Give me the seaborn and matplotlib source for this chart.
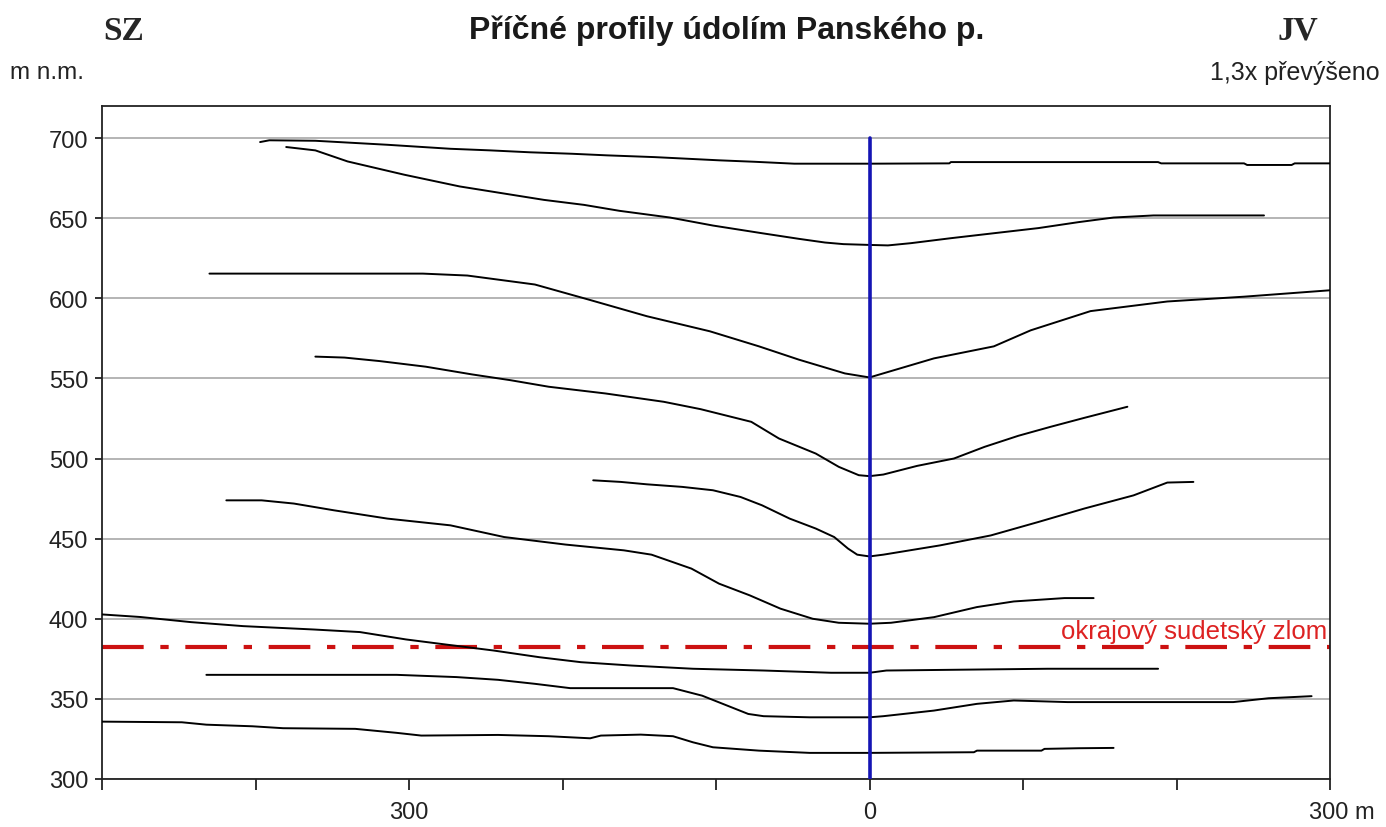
import numpy as np
import pandas as pd
import matplotlib
matplotlib.use("Agg")
import matplotlib.pyplot as plt
import matplotlib.transforms as mtransforms
import seaborn as sns

# ---- data (distance from valley axis in m, SZ negative; elevation m n.m.) ----
p1_x = [-397, -391, -361, -314, -273, -247, -221, -194, -171, -140, -119, -98, -75, -49, 0, 52, 53, 188, 190, 244, 246, 275, 277, 300]
p1_y = [697.5, 698.6, 698.3, 695.8, 693.3, 692.3, 691.1, 690.2, 689.2, 688.1, 687.1, 686.1, 685.2, 684.0, 684.0, 684.2, 685.0, 685.0, 684.2, 684.2, 683.2, 683.2, 684.2, 684.2]

p2_x = [-380, -361, -340, -303, -267, -233, -212, -186, -163, -130, -102, -70, -46, -29, -17, 0, 12, 27, 53, 81, 110, 136, 159, 185, 257]
p2_y = [694.4, 692.3, 685.4, 677.1, 669.8, 664.6, 661.4, 658.3, 654.6, 650.4, 645.4, 640.6, 637.1, 634.8, 633.8, 633.3, 633.0, 634.4, 637.5, 640.6, 643.8, 647.5, 650.4, 651.7, 651.7]

p3_x = [-430, -291, -262, -218, -183, -145, -104, -72, -46, -16, 0, 42, 81, 105, 144, 194, 244, 300]
p3_y = [615.4, 615.4, 614.2, 608.6, 599.2, 588.8, 579.4, 570.0, 561.7, 553.1, 550.6, 562.5, 570.0, 580.0, 592.0, 598.0, 601.0, 605.0]

p4_x = [-361, -342, -319, -289, -259, -234, -209, -172, -134, -110, -77, -59, -35, -20, -7, 0, 9, 31, 55, 75, 97, 118, 140, 168]
p4_y = [563.6, 563.0, 560.8, 557.3, 552.5, 548.9, 544.8, 540.6, 535.4, 530.8, 522.9, 512.5, 503.1, 494.8, 489.6, 489.0, 490.0, 495.4, 500.0, 507.3, 514.2, 519.8, 525.4, 532.3]

p5_x = [-180, -162, -145, -122, -102, -84, -70, -52, -35, -23, -14, -8, 0, 9, 46, 79, 110, 140, 172, 194, 211]
p5_y = [486.4, 485.4, 483.9, 482.3, 480.2, 476.0, 470.8, 462.5, 456.3, 451.0, 443.8, 440.0, 438.9, 440.0, 445.8, 452.0, 460.4, 468.8, 477.0, 485.0, 485.4]

p6_x = [-419, -396, -375, -349, -314, -273, -238, -198, -160, -142, -116, -98, -78, -58, -37, -20, 0, 14, 42, 70, 94, 127, 146]
p6_y = [473.9, 473.9, 471.9, 467.7, 462.5, 458.3, 451.0, 446.3, 442.7, 440.0, 431.3, 421.9, 414.6, 406.3, 400.0, 397.5, 396.9, 397.5, 401.0, 407.3, 410.8, 412.9, 412.9]

p7_x = [-500, -475, -442, -408, -362, -332, -302, -275, -245, -215, -188, -155, -115, -69, -25, 0, 11, 116, 188]
p7_y = [402.7, 401.1, 397.9, 395.4, 393.3, 391.7, 387.1, 383.8, 380.2, 376.0, 372.9, 370.8, 368.8, 367.7, 366.3, 366.3, 367.7, 368.8, 368.8]

p8_x = [-432, -308, -269, -242, -218, -195, -128, -109, -79, -69, -39, 0, 9, 42, 70, 94, 129, 237, 260, 288]
p8_y = [365.0, 365.0, 363.6, 361.9, 359.4, 356.7, 356.7, 352.0, 340.6, 339.2, 338.5, 338.5, 339.2, 342.7, 346.9, 349.0, 348.0, 348.0, 350.4, 351.7]

p9_x = [-500, -448, -432, -402, -382, -335, -308, -292, -242, -209, -182, -175, -149, -128, -115, -102, -72, -39, 0, 68, 70, 112, 114, 136, 159]
p9_y = [335.8, 335.4, 333.9, 332.9, 331.7, 331.3, 328.8, 327.1, 327.5, 326.7, 325.4, 327.1, 327.7, 326.7, 322.9, 319.8, 317.7, 316.3, 316.3, 316.7, 317.7, 317.7, 318.8, 319.2, 319.4]

profiles = [(p1_x, p1_y), (p2_x, p2_y), (p3_x, p3_y), (p4_x, p4_y), (p5_x, p5_y),
            (p6_x, p6_y), (p7_x, p7_y), (p8_x, p8_y), (p9_x, p9_y)]

fault_level = 382.5
axis_x = 0
y_ticks = [300, 350, 400, 450, 500, 550, 600, 650, 700]
x_ticks = [-500, -400, -300, -200, -100, 0, 100, 200, 300]
x_ticklabels = ["", "", "300", "", "", "0", "", "", "300 m"]

title = "Příčné profily údolím Panského p."
left_label = "SZ"
right_label = "JV"
y_unit = "m n.m."
exag = "1,3x převýšeno"
fault_label = "okrajový sudetský zlom"

# ---- plotting ----
sns.set_theme(style="white")
plt.rcParams['font.family'] = ['Liberation Sans', 'DejaVu Sans']

fig = plt.figure(figsize=(13.86, 8.28), dpi=100)
ax = fig.add_axes([102 / 1386, 1 - 780 / 828, (1330 - 102) / 1386, (780 - 107) / 828])

rows = []
for i, (xs, ys) in enumerate(profiles):
    for xv, yv in zip(xs, ys):
        rows.append({"profile": i, "x": xv, "y": yv})
df = pd.DataFrame(rows)

for i in range(len(profiles)):
    sns.lineplot(data=df[df.profile == i], x="x", y="y", sort=False, estimator=None,
                 color="black", linewidth=1.4, ax=ax, zorder=3)

ax.set_xlim(-500, 300)
ax.set_ylim(300, 720)

ax.set_yticks(y_ticks)
ax.set_yticklabels([str(v) for v in y_ticks])
ax.set_xticks(x_ticks)
ax.set_xticklabels(x_ticklabels)
ax.yaxis.grid(True, color="#a8a8a8", linewidth=1.2)
ax.xaxis.grid(False)
ax.set_axisbelow(True)
ax.set_xlabel("")
ax.set_ylabel("")

for s in ax.spines.values():
    s.set_visible(True)
    s.set_color("#222222")
    s.set_linewidth(1.3)

ax.tick_params(axis="x", direction="out", length=8, width=1.3, color="#222222",
               labelsize=17, pad=8, labelcolor="#222222", bottom=True)
ax.tick_params(axis="y", direction="out", length=5, width=1.3, color="#222222",
               labelsize=17, pad=5, labelcolor="#222222", left=True)

# shift "300 m" label slightly right
lbl = ax.get_xticklabels()[-1]
lbl.set_transform(lbl.get_transform() + mtransforms.ScaledTranslation(12 / 100, 0, fig.dpi_scale_trans))

# valley axis
ax.plot([axis_x, axis_x], [300, 700], color="#1414b4", linewidth=2.6, zorder=4)

# fault line
ax.axhline(fault_level, color="#cc1111", linewidth=3, dashes=(10, 4, 2, 4), zorder=2)
ax.text(298, 392.5, fault_label, color="#dd2222", fontsize=18.5, ha="right", va="center", zorder=5)

# texts
fig.text(727 / 1386, 1 - 30 / 828, title, ha="center", va="center", fontsize=23, fontweight="bold",
         color="#1a1a1a")
fig.text(124 / 1386, 1 - 31 / 828, left_label, ha="center", va="center", fontsize=24,
         fontweight="bold", family=["Liberation Serif", "DejaVu Serif"])
fig.text(1298 / 1386, 1 - 31 / 828, right_label, ha="center", va="center", fontsize=24,
         fontweight="bold", family=["Liberation Serif", "DejaVu Serif"])
fig.text(10 / 1386, 1 - 73 / 828, y_unit, ha="left", va="center", fontsize=17.5, color="#222222")
fig.text(1380 / 1386, 1 - 73 / 828, exag, ha="right", va="center", fontsize=18, color="#222222")

fig.savefig("out.png", dpi=100, facecolor="white")
